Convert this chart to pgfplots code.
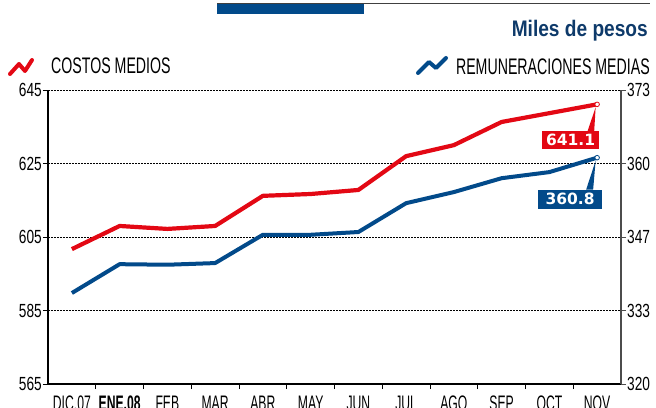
\documentclass[border=0pt]{standalone}
\usepackage{pgfplots}
\pgfplotsset{compat=1.18}
\usepackage{fontspec}
\setmainfont{Liberation Sans}
\newfontfamily\cond{Liberation Sans}[FakeStretch=0.63]
\newfontfamily\condn{Liberation Sans}[FakeStretch=0.72]
\newfontfamily\condm{Liberation Sans}[FakeStretch=0.58]
\newfontfamily\titlef{Liberation Sans}[FakeStretch=0.85]
\newfontfamily\boxf{DejaVu Sans}
\definecolor{cred}{RGB}{227,8,20}
\definecolor{cblue}{RGB}{2,74,138}
\definecolor{ctitle}{RGB}{14,58,106}
\begin{document}
\begin{tikzpicture}
\useasboundingbox (0pt,0pt) rectangle (656pt,407pt);
% top decoration
\fill[cblue] (217pt,393pt) rectangle (364pt,403pt);
\draw[line width=1.3pt, black!75] (217pt,403.2pt) -- (650pt,403.2pt);
\node[anchor=base east, inner sep=0pt, text=ctitle, font=\titlef\bfseries\fontsize{22.5}{24}\selectfont] at (648pt,370pt) {Miles de pesos};
% legend
\draw[cred, line width=4pt, line join=round, line cap=round] (10pt,333pt) -- (19pt,343pt) -- (25pt,336pt) -- (32pt,347pt);
\node[anchor=base west, inner sep=0pt, font=\cond\fontsize{22.5}{24}\selectfont] at (51pt,333.5pt) {COSTOS MEDIOS};
\draw[cblue, line width=4pt, line join=round, line cap=round] (418pt,334pt) -- (429pt,345pt) -- (436pt,339pt) -- (446pt,349pt);
\node[anchor=base east, inner sep=0pt, font=\cond\fontsize{22.5}{24}\selectfont] at (650pt,332.5pt) {REMUNERACIONES MEDIAS};

\pgfplotsset{
  common/.style={
    at={(48pt,23pt)}, anchor=south west,
    scale only axis, width=573pt, height=294pt,
    xmin=-0.5, xmax=11.5,
    /pgf/number format/assume math mode=true,
    tick align=outside,
    ticklabel style={font=\condn\fontsize{19}{21}\selectfont},
  }
}
\begin{axis}[common,
  ymin=565, ymax=645,
  ytick={565,585,605,625,645},
  axis x line*=bottom, axis y line*=left,
  axis line style={line width=1.1pt, black},
  ymajorgrids,
  grid style={dash pattern=on 2pt off 1pt, line width=0.6pt, black},
  xtick={0,...,11},
  xticklabels={DIC.07,\textbf{ENE.08},FEB,MAR,ABR,MAY,JUN,JUL,AGO,SEP,OCT,NOV},
  major x tick style={draw=none},
  minor xtick={0.5,1.5,...,10.5},
  minor tick length=5pt,
  minor x tick style={line width=0.8pt, black},
  major tick length=5pt,
  ytick style={line width=0.8pt, black},
  xticklabel style={anchor=north, inner sep=0pt, yshift=-7pt, font=\condm\fontsize{21}{23}\selectfont},
  yticklabel style={anchor=east, inner sep=0pt, xshift=-1pt},
  clip=false,
]
\addplot[cred, line width=4.2pt, line join=round] coordinates {
(0,601.7) (1,608.0) (2,607.2) (3,608.0) (4,616.2) (5,616.7)
(6,617.8) (7,627.0) (8,630.0) (9,636.3) (10,638.7) (11,641.1)};
\addplot[only marks, mark=*, mark size=2.3pt, mark options={fill=white, draw=cred, line width=0.8pt}] coordinates {(11,641.1)};
\fill[cred] ([shift={(-10pt,-28pt)}]axis cs:11,641.1) -- ([shift={(-3pt,-28pt)}]axis cs:11,641.1) -- ([shift={(-1.5pt,-3pt)}]axis cs:11,641.1) -- cycle;
\node[fill=cred, text=white, font=\boxf\bfseries\fontsize{15.5}{16}\selectfont, minimum width=57pt, minimum height=18pt, inner sep=0pt] at ([shift={(-26.5pt,-36pt)}]axis cs:11,641.1) {641.1};
\end{axis}
\begin{axis}[common,
  ymin=320, ymax=373,
  ytick={320,333.25,346.5,359.75,373},
  yticklabels={320,333,347,360,373},
  axis x line=none, axis y line*=right,
  axis line style={line width=1.1pt, black!70},
  ytick style={line width=0.8pt, black!70},
  major tick length=5pt,
  yticklabel style={anchor=west, inner sep=0pt, xshift=1pt},
  clip=false,
]
\addplot[cblue, line width=4pt, line join=round] coordinates {
(0,336.4) (1,341.6) (2,341.5) (3,341.8) (4,346.9) (5,346.9)
(6,347.4) (7,352.6) (8,354.6) (9,357.1) (10,358.2) (11,360.8)};
\addplot[only marks, mark=*, mark size=2.3pt, mark options={fill=white, draw=cblue, line width=0.8pt}] coordinates {(11,360.8)};
\fill[cblue] ([shift={(-11pt,-32pt)}]axis cs:11,360.8) -- ([shift={(-4pt,-32pt)}]axis cs:11,360.8) -- ([shift={(-1.5pt,-3pt)}]axis cs:11,360.8) -- cycle;
\node[fill=cblue, text=white, font=\boxf\bfseries\fontsize{15.5}{16}\selectfont, minimum width=64pt, minimum height=19pt, inner sep=0pt] at ([shift={(-27pt,-41.5pt)}]axis cs:11,360.8) {360.8};
\end{axis}
\end{tikzpicture}
\end{document}
